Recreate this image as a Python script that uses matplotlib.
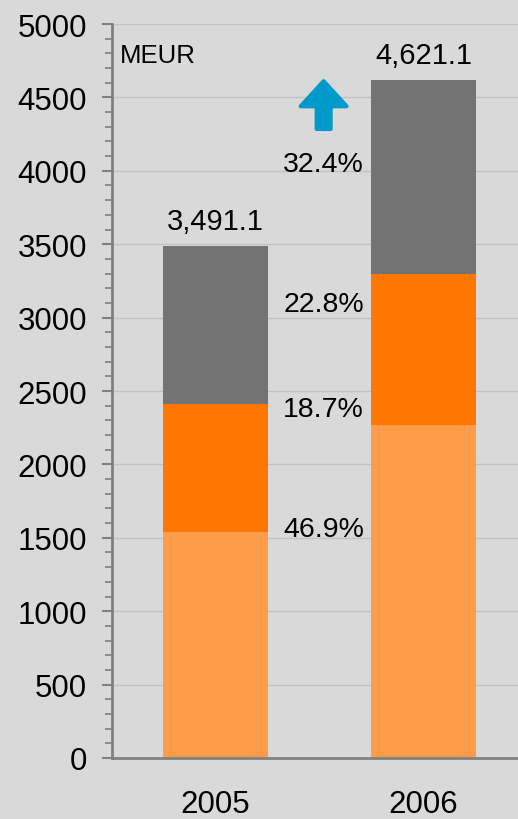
import matplotlib
matplotlib.use("Agg")
import matplotlib.pyplot as plt
import numpy as np

years = ["2005", "2006"]
seg_bottom = [1540, 2270]
seg_middle = [870, 1030]
seg_top = [1081.1, 1321.1]
totals = ["3,491.1", "4,621.1"]
growth = ["46.9%", "18.7%", "22.8%", "32.4%"]
growth_y = [1560, 2377, 3093, 4046]

bg = "#d9d9d9"
font = "Liberation Sans"

fig = plt.figure(figsize=(5.18, 8.2), dpi=100, facecolor=bg)
ax = fig.add_axes([0.216, 0.0744, 0.784, 0.8951], facecolor=bg)

x = np.arange(len(years))
b = np.array(seg_bottom)
m = np.array(seg_middle)
t = np.array(seg_top)
w = 0.505
ax.bar(x, b, w, color="#ff9c4a", zorder=2)
ax.bar(x, m, w, bottom=b, color="#ff7700", zorder=2)
ax.bar(x, t, w, bottom=b + m, color="#737373", zorder=2)

for i in range(len(years)):
    ax.text(x[i], b[i] + m[i] + t[i] + 70, totals[i], ha="center", va="bottom",
            fontsize=21, family=font)

for lab, yv in zip(growth, growth_y):
    ax.text(0.52, yv, lab, ha="center", va="center", fontsize=20.5, family=font)

ax.annotate("", xy=(0.52, 4610), xytext=(0.52, 4285),
            arrowprops=dict(arrowstyle="simple,head_width=3.3,head_length=1.8,tail_width=1.0",
                            mutation_scale=10, color="#0099cc", lw=3,
                            joinstyle="round", capstyle="round",
                            shrinkA=0, shrinkB=0), zorder=3)

ax.text(0.02, 0.958, "MEUR", transform=ax.transAxes, ha="left", va="center",
        fontsize=18.5, family=font)

ax.set_xlim(-0.4976, 1.454)
ax.set_ylim(0, 5000)
ax.set_yticks(np.arange(0, 5001, 500))
ax.set_yticks(np.arange(0, 5001, 100), minor=True)
ax.set_xticks(x)
ax.set_xticklabels(years)
ax.yaxis.grid(True, color="#c2c2c2", lw=1, zorder=0)
ax.set_axisbelow(True)

for s in ["top", "right"]:
    ax.spines[s].set_visible(False)
for s in ["left", "bottom"]:
    ax.spines[s].set_color("#808080")
    ax.spines[s].set_linewidth(2)

ax.tick_params(axis="y", which="major", length=7, width=1.5, color="#808080",
               pad=11, labelsize=22.5)
ax.tick_params(axis="y", which="minor", length=5, width=1.2, color="#808080")
ax.tick_params(axis="x", length=0, pad=22, labelsize=22.5)
for lab in ax.get_yticklabels() + ax.get_xticklabels():
    lab.set_family(font)

fig.savefig("out.png", dpi=100, facecolor=bg)
